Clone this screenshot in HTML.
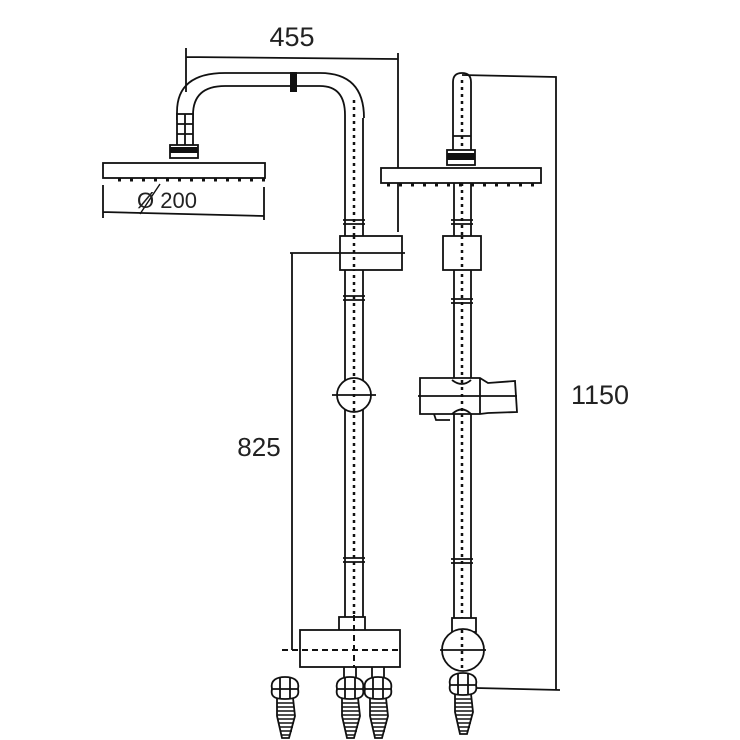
<!DOCTYPE html>
<html><head><meta charset="utf-8"><style>html,body{margin:0;padding:0;background:#fff}svg{display:block}text{font-family:"Liberation Sans",sans-serif;fill:#222}</style></head>
<body>
<svg width="740" height="740" viewBox="0 0 740 740" xmlns="http://www.w3.org/2000/svg">
<defs>
<g id="fit" fill="#fff" stroke="#111" stroke-width="1.8">
<path d="M-8,18 L-8,36 L-3,58 L4,58 L10,36 L8,18 Z"/>
<path d="M-8,23h16 M-8,27h17 M-8,31h18 M-8,35h18 M-7,39h16 M-6,43h15 M-5,47h13 M-4,51h11 M-3,55h8" stroke-width="1.4"/>
<path d="M-13,9 C-15,0 -8,-3 0,-3 C8,-3 15,0 13,9 C15,18 8,19 0,19 C-8,19 -15,18 -13,9 Z"/>
<path d="M-5,-2 V18 M5,-2 V18 M-13,9 H13"/>
</g>
<g id="ring" stroke="#111" stroke-width="1.8"><path d="M-11,-2h22 M-11,2h22"/></g>
</defs>
<g fill="none" stroke="#111" stroke-width="1.8">
<path d="M186,48 V92 M186,57 L398,59 M398,53 V232"/>
<path d="M177,120 V112 Q177,73 225,73 H320 Q364,73 364,118"/>
<path d="M193,120 V115 Q193,86 225,86 H320 Q345,86 345,115"/>
<rect x="290" y="72" width="7" height="20" fill="#111" stroke="none"/>
<rect x="177" y="114" width="16" height="32" fill="#fff"/>
<path d="M177,124 H193 M177,134 H193 M185,114 V146"/>
<rect x="170" y="145" width="28" height="13" fill="#fff"/>
<rect x="170" y="147" width="28" height="6" fill="#111" stroke="none"/>
<rect x="103" y="163" width="162" height="15" fill="#fff"/>
<path d="M118,180h150" stroke-dasharray="3,9" stroke-width="3"/>
<path d="M103,185 V218 M264,187 V220 M103,212 L264,216"/>
<path d="M140,214 L160,184" stroke-width="1.4"/>
<path d="M345,115 V625 M363,118 V625"/>
<path d="M354,100 V630" stroke-dasharray="3,4" stroke-width="2.5"/>
<use href="#ring" x="354" y="222"/><use href="#ring" x="354" y="298"/><use href="#ring" x="354" y="560"/>
<rect x="340" y="236" width="62" height="34" fill="#fff"/>
<path d="M354,236 V270" stroke-dasharray="3,4" stroke-width="2.5"/>
<path d="M290,253 H405"/>
<circle cx="354" cy="395" r="17" fill="#fff"/>
<path d="M332,395 H376"/>
<path d="M354,380 V412" stroke-dasharray="3,4" stroke-width="2.5"/>
<path d="M292,253 V650"/>
<rect x="339" y="617" width="26" height="14" fill="#fff"/>
<rect x="300" y="630" width="100" height="37" fill="#fff"/>
<path d="M282,650 H400 M354,615 V668" stroke-dasharray="6,4" stroke-width="2"/>
<path d="M453,152 V82 Q453,73 462,73 Q471,73 471,82 V152" fill="#fff"/>
<path d="M462,80 V150" stroke-dasharray="3,4" stroke-width="2.5"/>
<path d="M453,136 H471"/>
<rect x="447" y="150" width="28" height="15" fill="#fff"/>
<rect x="447" y="153" width="28" height="7" fill="#111" stroke="none"/>
<rect x="381" y="168" width="160" height="15" fill="#fff"/>
<path d="M387,185h150" stroke-dasharray="3,9" stroke-width="3"/>
<path d="M454,183 V620 M471,183 V620"/>
<path d="M462,183 V680" stroke-dasharray="3,4" stroke-width="2.5"/>
<use href="#ring" x="462" y="222"/><use href="#ring" x="462" y="301"/><use href="#ring" x="462" y="561"/>
<rect x="443" y="236" width="38" height="34" fill="#fff"/>
<path d="M462,236 V270" stroke-dasharray="3,4" stroke-width="2.5"/>
<path d="M420,378 H480 L488,383 L515,381 L517,412 L488,413 L480,414 H420 Z" fill="#fff"/>
<path d="M480,378 V414 M418,396 H517"/>
<path d="M452,380 Q462,388 471,380 M452,414 Q462,405 471,414 M434,414 L436,420 H450"/>
<path d="M462,380 V414" stroke-dasharray="3,4" stroke-width="2.5"/>
<rect x="452" y="618" width="24" height="14" fill="#fff"/>
<circle cx="463" cy="650" r="21" fill="#fff"/>
<path d="M440,650 H486"/>
<path d="M462,630 V672" stroke-dasharray="3,4" stroke-width="2.5"/>
<path d="M462,75 L556,77 V690 M476,688 L560,690"/>
</g>
<use href="#fit" x="285" y="680"/>
<use href="#fit" x="350" y="680"/>
<use href="#fit" x="378" y="680"/>
<use href="#fit" x="463" y="676"/>
<path d="M344,667 V677 M356,667 V677 M372,667 V677 M384,667 V677" stroke="#111" stroke-width="1.8"/>
<text x="292" y="46" font-size="27" text-anchor="middle">455</text>
<text x="137" y="208" font-size="22">Ø 200</text>
<text x="259" y="456" font-size="26" text-anchor="middle">825</text>
<text x="600" y="404" font-size="27" text-anchor="middle">1150</text>
</svg>
</body></html>
